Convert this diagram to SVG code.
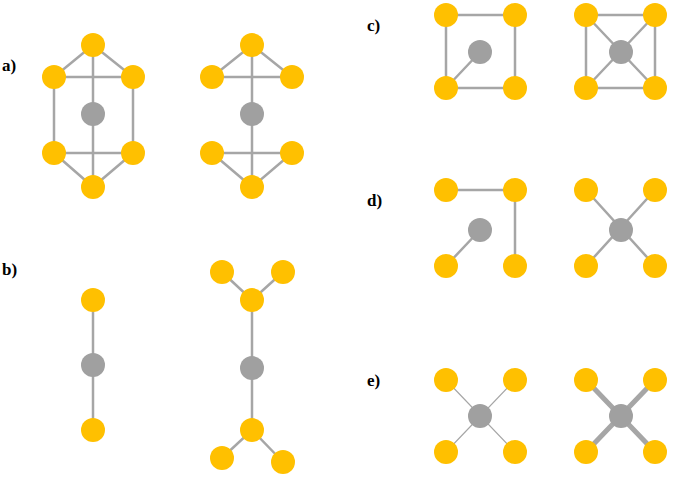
<svg xmlns="http://www.w3.org/2000/svg" width="675" height="480" viewBox="0 0 675 480">
<style>
.e{stroke:#A6A6A6;stroke-width:2.5;fill:none}
.t{stroke-width:1.2}
.k{stroke-width:5}
.y{fill:#FFC000}
.g{fill:#A0A0A0}
.l{font-family:"Liberation Serif",serif;font-size:17px;font-weight:bold;fill:#000}
</style>
<rect width="675" height="480" fill="#fff"/>
<g id="labels">
<text class="l" x="2" y="71">a)</text>
<text class="l" x="2" y="275">b)</text>
<text class="l" x="367" y="31">c)</text>
<text class="l" x="367" y="206">d)</text>
<text class="l" x="367" y="386">e)</text>
</g>
<g id="connectors">
<path class="e" d="M93,45L54,77L133,77L93,45 M54,77V153 M133,77V153 M54,153H133 M54,153L93,187L133,153 M93,45V187"/>
<path class="e" d="M252,45L212,77L292,77L252,45 M252,45V187 M212,153H292 M212,153L252,187L292,153"/>
<path class="e" d="M93,300V430"/>
<path class="e" d="M222,272L252,300L283,272 M252,300V430 M222,458L252,430L283,462"/>
<path class="e" d="M446,15H515V88H446Z M480,52L446,88"/>
<path class="e" d="M586,15H655V88H586Z M586,15L655,88 M655,15L586,88"/>
<path class="e" d="M446,190H515V266 M480,230L446,266"/>
<path class="e" d="M586,190L655,266 M655,190L586,266"/>
<path class="e t" d="M446,380L515,452 M515,380L446,452"/>
<path class="e k" d="M586,380L655,452 M655,380L586,452"/>
</g>
<g id="a-left">
<circle class="y" cx="93" cy="45" r="12"/><circle class="y" cx="54" cy="77" r="12"/><circle class="y" cx="133" cy="77" r="12"/>
<circle class="g" cx="93" cy="114" r="12"/>
<circle class="y" cx="54" cy="153" r="12"/><circle class="y" cx="133" cy="153" r="12"/><circle class="y" cx="93" cy="187" r="12"/>
</g>
<g id="a-right">
<circle class="y" cx="252" cy="45" r="12"/><circle class="y" cx="212" cy="77" r="12"/><circle class="y" cx="292" cy="77" r="12"/>
<circle class="g" cx="252" cy="114" r="12"/>
<circle class="y" cx="212" cy="153" r="12"/><circle class="y" cx="292" cy="153" r="12"/><circle class="y" cx="252" cy="187" r="12"/>
</g>
<g id="b-left">
<circle class="y" cx="93" cy="300" r="12"/><circle class="g" cx="93" cy="365" r="12"/><circle class="y" cx="93" cy="430" r="12"/>
</g>
<g id="b-right">
<circle class="y" cx="222" cy="272" r="12"/><circle class="y" cx="283" cy="272" r="12"/><circle class="y" cx="252" cy="300" r="12"/>
<circle class="g" cx="252" cy="368" r="12"/>
<circle class="y" cx="252" cy="430" r="12"/><circle class="y" cx="222" cy="458" r="12"/><circle class="y" cx="283" cy="462" r="12"/>
</g>
<g id="c-left">
<circle class="y" cx="446" cy="15" r="12"/><circle class="y" cx="515" cy="15" r="12"/><circle class="y" cx="446" cy="88" r="12"/><circle class="y" cx="515" cy="88" r="12"/><circle class="g" cx="480" cy="52" r="12"/>
</g>
<g id="c-right">
<circle class="y" cx="586" cy="15" r="12"/><circle class="y" cx="655" cy="15" r="12"/><circle class="y" cx="586" cy="88" r="12"/><circle class="y" cx="655" cy="88" r="12"/><circle class="g" cx="621" cy="52" r="12"/>
</g>
<g id="d-left">
<circle class="y" cx="446" cy="190" r="12"/><circle class="y" cx="515" cy="190" r="12"/><circle class="y" cx="446" cy="266" r="12"/><circle class="y" cx="515" cy="266" r="12"/><circle class="g" cx="480" cy="230" r="12"/>
</g>
<g id="d-right">
<circle class="y" cx="586" cy="190" r="12"/><circle class="y" cx="655" cy="190" r="12"/><circle class="y" cx="586" cy="266" r="12"/><circle class="y" cx="655" cy="266" r="12"/><circle class="g" cx="621" cy="230" r="12"/>
</g>
<g id="e-left">
<circle class="y" cx="446" cy="380" r="12"/><circle class="y" cx="515" cy="380" r="12"/><circle class="y" cx="446" cy="452" r="12"/><circle class="y" cx="515" cy="452" r="12"/><circle class="g" cx="480" cy="416" r="12"/>
</g>
<g id="e-right">
<circle class="y" cx="586" cy="380" r="12"/><circle class="y" cx="655" cy="380" r="12"/><circle class="y" cx="586" cy="452" r="12"/><circle class="y" cx="655" cy="452" r="12"/><circle class="g" cx="621" cy="416" r="12"/>
</g>
</svg>
